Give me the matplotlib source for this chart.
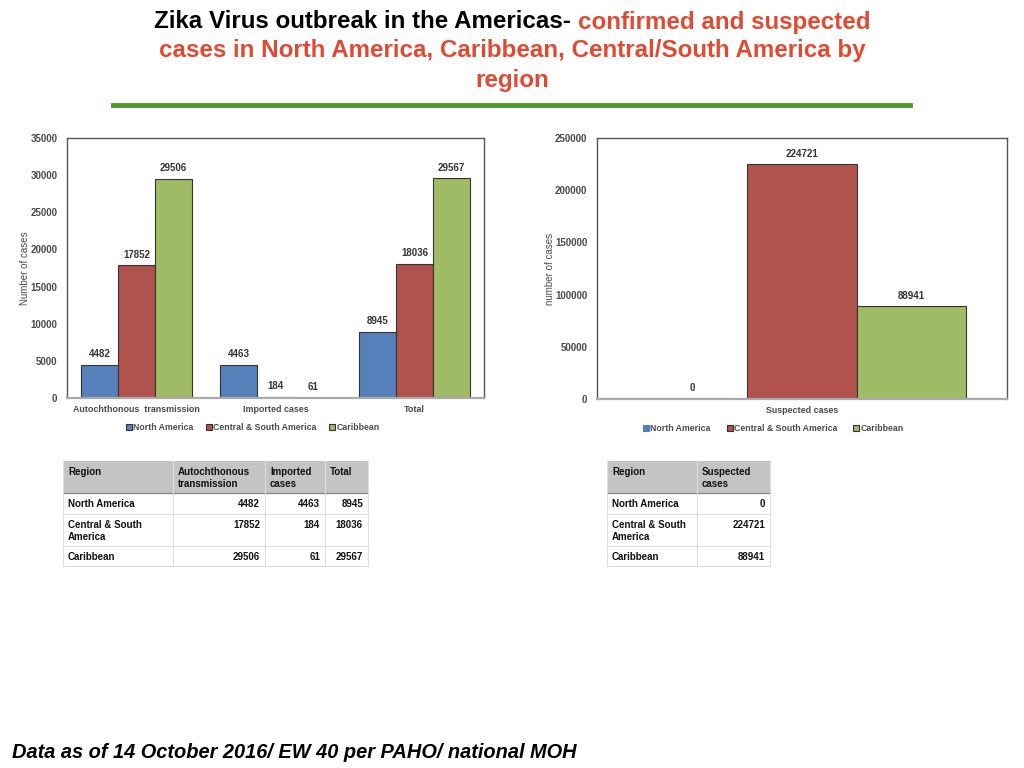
import numpy as np
import matplotlib
matplotlib.use("Agg")
import matplotlib.pyplot as plt
from matplotlib.patches import Rectangle

# data
regions = ["North America", "Central & South America", "Caribbean"]
regions_table = ["North America", "Central & South\nAmerica", "Caribbean"]
categories = ["Autochthonous  transmission", "Imported cases", "Total"]
autochthonous = [4482, 17852, 29506]
imported = [4463, 184, 61]
total = [8945, 18036, 29567]
suspected_label = "Suspected cases"
suspected = [0, 224721, 88941]

colors = ["#5680BA", "#B0524E", "#A0BB65"]
tick_color = "#4a4a4a"

plt.rcParams["font.family"] = ["Liberation Sans", "DejaVu Sans"]

fig = plt.figure(figsize=(10.24, 7.68), dpi=100)


def px(x0, y_top, w, h):
    return [x0 / 1024, 1 - (y_top + h) / 768, w / 1024, h / 768]


def style_axes(ax):
    for s in ["left", "top", "right"]:
        ax.spines[s].set_color("#555555")
        ax.spines[s].set_linewidth(1.0)
    ax.spines["bottom"].set_color("#aaaaaa")
    ax.spines["bottom"].set_linewidth(1.6)
    ax.tick_params(axis="y", length=0, labelsize=7, colors=tick_color, pad=7)
    ax.tick_params(axis="x", length=0, labelsize=6.4, colors=tick_color, pad=5)
    for lab in ax.get_xticklabels() + ax.get_yticklabels():
        lab.set_fontweight("bold")


legend_kw = dict(loc="upper center", ncol=3, frameon=False,
                 handlelength=0.7, handleheight=0.7, handletextpad=0.15,
                 labelcolor=tick_color, prop={"size": 6.3, "weight": "bold"})

# ---- left chart: confirmed cases ----
ax1 = fig.add_axes(px(67, 138, 417, 260))
x = np.arange(len(categories))
w = 0.2667
for i, reg in enumerate(regions):
    vals = [autochthonous[i], imported[i], total[i]]
    bars = ax1.bar(x + (i - 1) * w, vals, w, color=colors[i],
                   edgecolor="#333333", linewidth=0.8, label=reg)
    for b, v in zip(bars, vals):
        ax1.annotate(str(v), (b.get_x() + b.get_width() / 2, v),
                     xytext=(0, 4), textcoords="offset points",
                     ha="center", va="bottom", fontsize=7,
                     fontweight="bold", color="#333333")
ax1.set_xlim(-0.5, 2.5)
ax1.set_ylim(0, 35000)
ax1.set_yticks(np.arange(0, 35001, 5000))
ax1.set_xticks(x)
ax1.set_xticklabels(categories)
ax1.set_ylabel("Number of cases", fontsize=7, color=tick_color, labelpad=0)
style_axes(ax1)
ax1.legend(bbox_to_anchor=(0.445, -0.065), columnspacing=1.4, **legend_kw)

# ---- right chart: suspected cases ----
ax2 = fig.add_axes(px(597, 138, 410, 261))
for i, reg in enumerate(regions):
    bars = ax2.bar([(i - 1) * w], [suspected[i]], w, color=colors[i],
                   edgecolor="#333333" if suspected[i] else colors[i],
                   linewidth=0.8, label=reg)
    b = bars[0]
    ax2.annotate(str(suspected[i]), (b.get_x() + b.get_width() / 2, suspected[i]),
                 xytext=(0, 4), textcoords="offset points",
                 ha="center", va="bottom", fontsize=7,
                 fontweight="bold", color="#333333")
ax2.set_xlim(-0.5, 0.5)
ax2.set_ylim(0, 250000)
ax2.set_yticks(np.arange(0, 250001, 50000))
ax2.set_xticks([0])
ax2.set_xticklabels([suspected_label])
ax2.set_ylabel("number of cases", fontsize=7, color=tick_color, labelpad=0)
style_axes(ax2)
ax2.legend(bbox_to_anchor=(0.43, -0.065), columnspacing=1.8, **legend_kw)

# ---- title ----
fig.canvas.draw()
renderer = fig.canvas.get_renderer()
red = "#E04A32"
title_kw = dict(fontsize=17.4, fontweight="bold",
                family=["Liberation Sans Narrow", "Liberation Sans"], va="center")
t_black = fig.text(0, 1 - 22 / 768, "Zika Virus outbreak in the Americas- ",
                   color="black", ha="left", **title_kw)
t_red = fig.text(0, 1 - 22 / 768, "confirmed and suspected",
                 color=red, ha="left", **title_kw)
wb = t_black.get_window_extent(renderer).width
wr = t_red.get_window_extent(renderer).width
start = 512 - (wb + wr) / 2
t_black.set_x(start / 1024)
t_red.set_x((start + wb) / 1024)
fig.text(0.5, 1 - 51 / 768, "cases in North America, Caribbean, Central/South America by",
         color=red, ha="center", **title_kw)
fig.text(0.5, 1 - 80 / 768, "region", color=red, ha="center", **title_kw)
fig.add_artist(plt.Line2D([113 / 1024, 910 / 1024], [1 - 105 / 768, 1 - 105 / 768],
                          color="#4C9A2A", linewidth=3.5))

# ---- tables ----
tab = fig.add_axes([0, 0, 1, 1], zorder=-1)
tab.set_xlim(0, 1024)
tab.set_ylim(768, 0)
tab.axis("off")

row_y = [461, 493, 514, 546, 566]


def draw_table(col_x, headers, columns):
    x0, x1 = col_x[0], col_x[-1]
    tab.add_patch(Rectangle((x0, row_y[0]), x1 - x0, row_y[1] - row_y[0],
                            facecolor="#C4C4C4", edgecolor="none"))
    for yy in row_y[2:]:
        tab.plot([x0, x1], [yy, yy], color="#dddddd", lw=0.8)
    tab.plot([x0, x1], [row_y[1], row_y[1]], color="#8a8a8a", lw=1.0)
    for xx in col_x:
        tab.plot([xx, xx], [row_y[0], row_y[-1]], color="#dddddd", lw=0.8)
    for j, h in enumerate(headers):
        tab.text(col_x[j] + 5, row_y[0] + 6, h, fontsize=7, fontweight="bold",
                 va="top", ha="left", color="#111111", linespacing=1.3)
    for r, reg in enumerate(regions_table):
        tab.text(col_x[0] + 5, row_y[r + 1] + 6, reg, fontsize=7, fontweight="bold",
                 va="top", ha="left", color="#111111", linespacing=1.3)
        for j, col in enumerate(columns):
            tab.text(col_x[j + 2] - 5, row_y[r + 1] + 6, str(col[r]), fontsize=7,
                     fontweight="bold", va="top", ha="right", color="#111111")


draw_table([63, 173, 265, 325, 368],
           ["Region", "Autochthonous\ntransmission", "Imported\ncases", "Total"],
           [autochthonous, imported, total])
draw_table([607, 697, 770], ["Region", "Suspected\ncases"], [suspected])

# ---- footnote ----
fig.text(12 / 1024, 1 - 752 / 768, "Data as of 14 October 2016/ EW 40 per PAHO/ national MOH",
         fontsize=14.4, fontweight="bold", style="italic", va="center", ha="left")

fig.savefig("out.png", dpi=100)
